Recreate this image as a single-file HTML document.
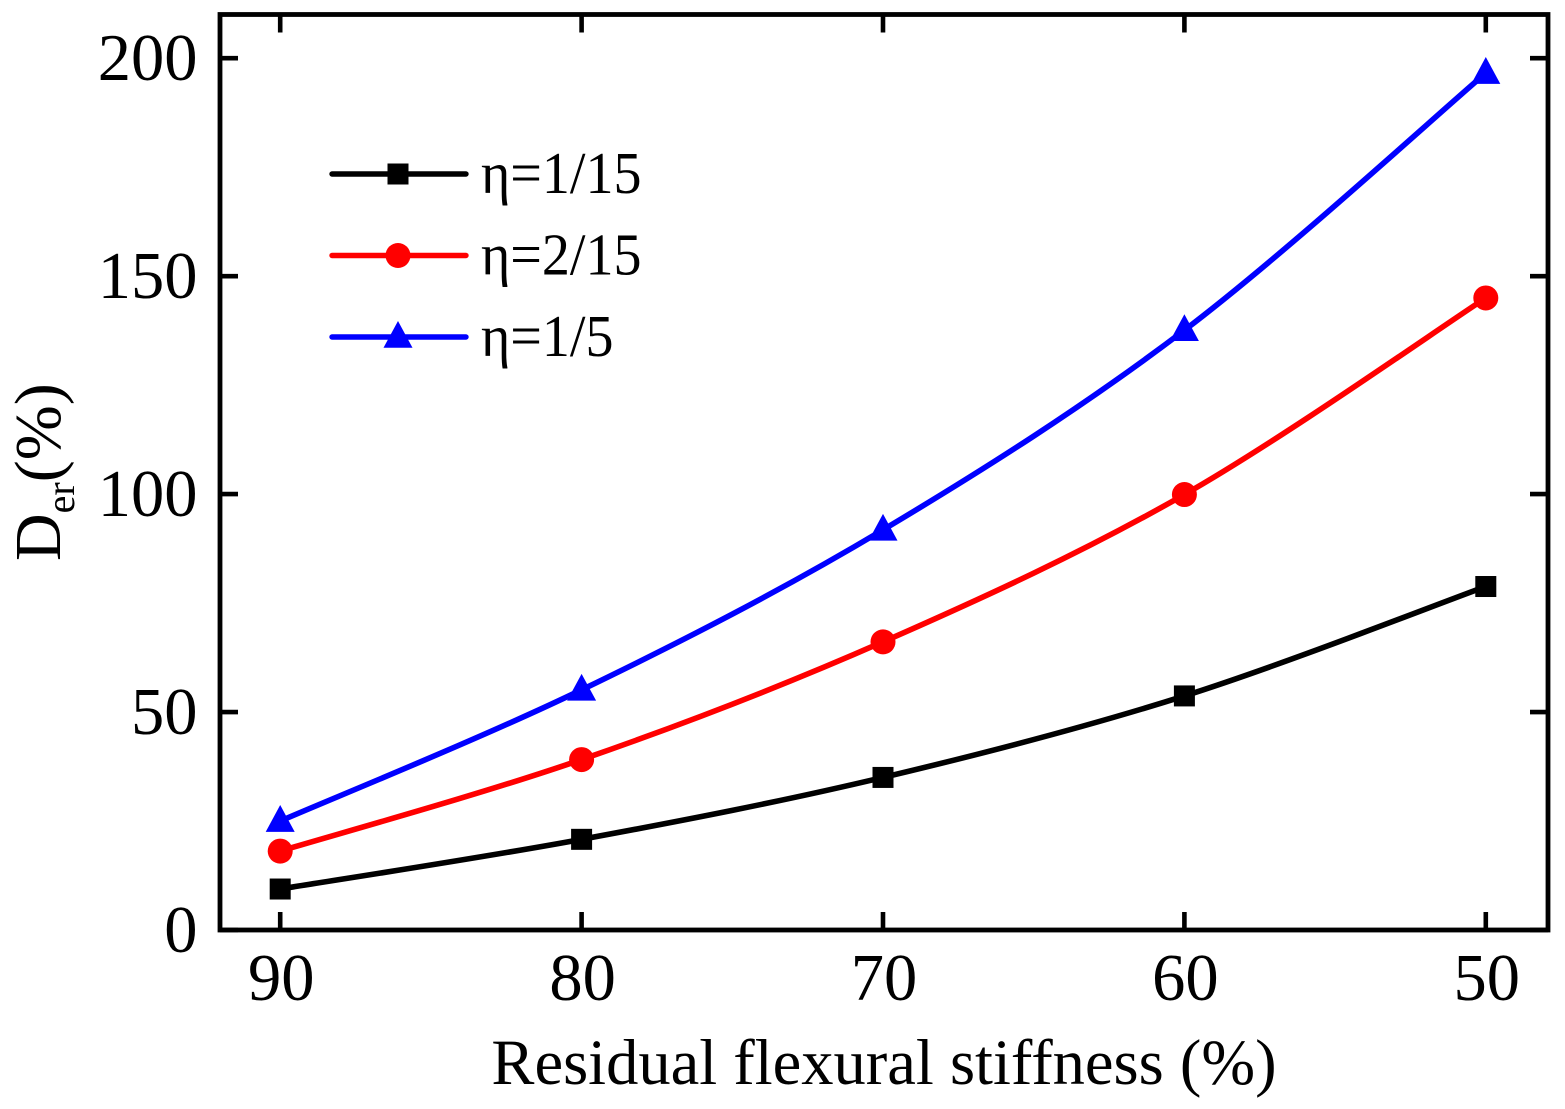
<!DOCTYPE html>
<html lang="en">
<head>
<meta charset="utf-8">
<title>Residual flexural stiffness chart</title>
<style>
html,body{margin:0;padding:0;background:#fff;width:1565px;height:1109px;overflow:hidden}
svg{display:block}
text{font-family:"Liberation Serif","Times New Roman",serif;fill:#000}
</style>
</head>
<body>
<svg id="chart" width="1565" height="1109" viewBox="0 0 1565 1109" xmlns="http://www.w3.org/2000/svg">
  <rect width="1565" height="1109" fill="#fff"/>
  <g id="axes"></g>
  <g id="series"></g>
  <g id="legend"></g>
  <text x="884" y="1084" font-size="64.5" text-anchor="middle">Residual flexural stiffness (%)</text>
  <text transform="translate(60,561) rotate(-90)" font-size="66">D<tspan font-size="40" dy="14">er</tspan><tspan dy="-14">(%)</tspan></text>
</svg>
<script>
var categories = [90, 80, 70, 60, 50];
var seriesLow = [9.4, 20.8, 35, 53.7, 78.8];
var seriesMid = [18.1, 39.1, 66.1, 99.9, 145];
var seriesHigh = [25, 55.1, 91.8, 137.6, 196.6];
var xTickLabels = [90, 80, 70, 60, 50];
var yTickLabels = [0, 50, 100, 150, 200];
var legendLabels = ['η=1/15', 'η=2/15', 'η=1/5'];

var NS = 'http://www.w3.org/2000/svg';
var L = 220, R = 1548, T = 14.5, B = 930;
function xScale(v) { return 280.2 + (90 - v) * 30.14; }
function yScale(v) { return 930 - v * 4.359; }
function make(tag, attrs, parent) {
  var el = document.createElementNS(NS, tag);
  for (var k in attrs) el.setAttribute(k, attrs[k]);
  parent.appendChild(el);
  return el;
}
var axes = document.getElementById('axes');
var frame = make('rect', {x: L, y: T, width: R - L, height: B - T, fill: 'none', stroke: '#000', 'stroke-width': 4.8}, axes);


var tickLen = 18;
xTickLabels.forEach(function (t) {
  var x = xScale(t);
  var b = make('line', {x1: x, x2: x, y1: B, y2: B - tickLen, stroke: '#000', 'stroke-width': 4.6}, axes);
  
  
  var u = make('line', {x1: x, x2: x, y1: T, y2: T + tickLen, stroke: '#000', 'stroke-width': 4.6}, axes);
  
  
  var lab = make('text', {x: x + 1, y: 1000, 'font-size': 66.5, 'text-anchor': 'middle'}, axes);
  lab.textContent = t;
  
  
});
yTickLabels.forEach(function (t) {
  var y = yScale(t);
  var a = make('line', {x1: L, x2: L + tickLen, y1: y, y2: y, stroke: '#000', 'stroke-width': 4.6}, axes);
  
  
  var c = make('line', {x1: R, x2: R - tickLen, y1: y, y2: y, stroke: '#000', 'stroke-width': 4.6}, axes);
  
  
  var lab = make('text', {x: 197.5, y: y + 22, 'font-size': 66.5, 'text-anchor': 'end'}, axes);
  lab.textContent = t;
  
  
});
function splinePath(vals) {
  var p = vals.map(function (v, i) { return [xScale(categories[i]), yScale(v)]; });
  var d = 'M' + p[0][0] + ' ' + p[0][1];
  for (var i = 0; i < p.length - 1; i++) {
    var p0 = p[Math.max(i - 1, 0)], p1 = p[i], p2 = p[i + 1], p3 = p[Math.min(i + 2, p.length - 1)];
    d += ' C' + (p1[0] + (p2[0] - p0[0]) / 6) + ' ' + (p1[1] + (p2[1] - p0[1]) / 6) + ' ' +
         (p2[0] - (p3[0] - p1[0]) / 6) + ' ' + (p2[1] - (p3[1] - p1[1]) / 6) + ' ' + p2[0] + ' ' + p2[1];
  }
  return d;
}
function marker(kind, cx, cy, color, parent) {
  if (kind === 'square') return make('rect', {x: cx - 10.5, y: cy - 10.5, width: 21, height: 21, fill: color}, parent);
  if (kind === 'circle') return make('circle', {cx: cx, cy: cy, r: 12.5, fill: color}, parent);
  return make('polygon', {points: (cx) + ',' + (cy - 16) + ' ' + (cx + 14.5) + ',' + (cy + 10.8) + ' ' + (cx - 14.5) + ',' + (cy + 10.8), fill: color}, parent);
}
var seriesGroup = document.getElementById('series');
var allSeries = [
  {vals: seriesLow, color: '#000', kind: 'square'},
  {vals: seriesMid, color: '#f00', kind: 'circle'},
  {vals: seriesHigh, color: '#00f', kind: 'triangle'}
];
allSeries.forEach(function (s, si) {
  var line = make('path', {d: splinePath(s.vals), fill: 'none', stroke: s.color, 'stroke-width': 5.6, 'stroke-linejoin': 'round'}, seriesGroup);
  
  
  s.vals.forEach(function (v, i) {
    var m = marker(s.kind, xScale(categories[i]), yScale(v), s.color, seriesGroup);
    
    
  });
});
var legend = document.getElementById('legend');
var legendY = [174, 255.5, 337];
allSeries.forEach(function (s, i) {
  var y = legendY[i];
  var ln = make('line', {x1: 332, x2: 466, y1: y, y2: y, stroke: s.color, 'stroke-width': 5.4, 'stroke-linecap': 'round'}, legend);
  
  
  var m = marker(s.kind, 398, y, s.color, legend);
  
  
  var t = make('text', {transform: 'translate(481,' + (y + 19) + ') scale(0.95,1)', 'font-size': 59}, legend);
  t.textContent = legendLabels[i];
  
  
});
</script>
</body>
</html>
